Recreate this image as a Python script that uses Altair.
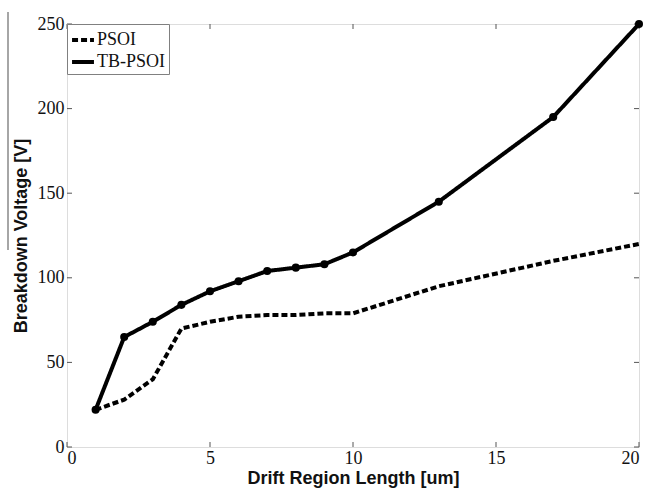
import altair as alt
import pandas as pd

x_vals = [1, 2, 3, 4, 5, 6, 7, 8, 9, 10, 13, 17, 20]
psoi = [22, 28, 40, 70, 74, 77, 78, 78, 79, 79, 95, 110, 120]
tb_psoi = [22, 65, 74, 84, 92, 98, 104, 106, 108, 115, 145, 195, 250]
series_names = ["PSOI", "TB-PSOI"]
x_ticks = [0, 5, 10, 15, 20]
y_ticks = [0, 50, 100, 150, 200, 250]

W, H = 572, 423

df = pd.DataFrame(
    [{"x": a, "v": b, "s": "PSOI"} for a, b in zip(x_vals, psoi)]
    + [{"x": a, "v": b, "s": "TB-PSOI"} for a, b in zip(x_vals, tb_psoi)]
)
xt = pd.DataFrame({"t": x_ticks})
yt = pd.DataFrame({"t": y_ticks})

xs = alt.Scale(domain=[0, 20], nice=False)
ys = alt.Scale(domain=[0, 250], nice=False)

xaxis = alt.Axis(values=x_ticks, title="Drift Region Length [um]", domain=False, ticks=False,
                 grid=False, labelFont="Liberation Serif", labelFontSize=18, labelColor="#111",
                 labelPadding=2, titleFont="Liberation Sans", titleFontWeight="bold",
                 titleFontSize=18, titlePadding=2, titleColor="#111")
yaxis = alt.Axis(values=y_ticks, title="Breakdown Voltage [V]", domain=False, ticks=False,
                 grid=False, labelFont="Liberation Serif", labelFontSize=18, labelColor="#111",
                 labelPadding=3, titleFont="Liberation Sans", titleFontWeight="bold",
                 titleFontSize=18, titlePadding=7, titleColor="#111")

lines = alt.Chart(df).mark_line(color="black", strokeWidth=4).encode(
    x=alt.X("x:Q", scale=xs, axis=xaxis),
    y=alt.Y("v:Q", scale=ys, axis=yaxis),
    strokeDash=alt.StrokeDash(
        "s:N",
        scale=alt.Scale(domain=series_names, range=[[6, 3], [1, 0]]),
        legend=alt.Legend(
            title=None, orient="none", legendX=0, legendY=0,
            strokeColor="#808080", fillColor="white", padding=3,
            symbolType="stroke", symbolSize=480, symbolStrokeWidth=4,
            symbolStrokeColor="black", labelFont="Liberation Serif",
            labelFontSize=18, labelColor="#111", rowPadding=0,
            labelOffset=1, cornerRadius=0,
        ),
    ),
)

points = alt.Chart(df[df["s"] == "TB-PSOI"]).mark_point(
    filled=True, color="black", size=65, opacity=1
).encode(x=alt.X("x:Q", scale=xs), y=alt.Y("v:Q", scale=ys))

bx = alt.Chart(xt).mark_rule(color="#555", strokeWidth=1)
bottom_ticks = bx.encode(x=alt.X("t:Q", scale=xs), y=alt.value(H), y2=alt.value(H - 5))
top_ticks = bx.encode(x=alt.X("t:Q", scale=xs), y=alt.value(0), y2=alt.value(5))
by = alt.Chart(yt).mark_rule(color="#555", strokeWidth=1)
left_ticks = by.encode(y=alt.Y("t:Q", scale=ys), x=alt.value(0), x2=alt.value(5))
right_ticks = by.encode(y=alt.Y("t:Q", scale=ys), x=alt.value(W), x2=alt.value(W - 5))

stray = alt.Chart(pd.DataFrame({"a": [0]})).mark_rule(color="#888", strokeWidth=1.5).encode(
    x=alt.value(-59), y=alt.value(-12), y2=alt.value(226)
)

chart = alt.layer(
    bottom_ticks, top_ticks, left_ticks, right_ticks, lines, points, stray
).properties(
    width=W, height=H,
    padding={"left": 67, "top": 24, "right": 11, "bottom": 41},
    autosize=alt.AutoSizeParams(type="none"),
).configure_view(stroke="#808080", strokeWidth=1.2).configure(background="white")

chart.save("out.html", embed_options={"renderer": "svg", "actions": False})
